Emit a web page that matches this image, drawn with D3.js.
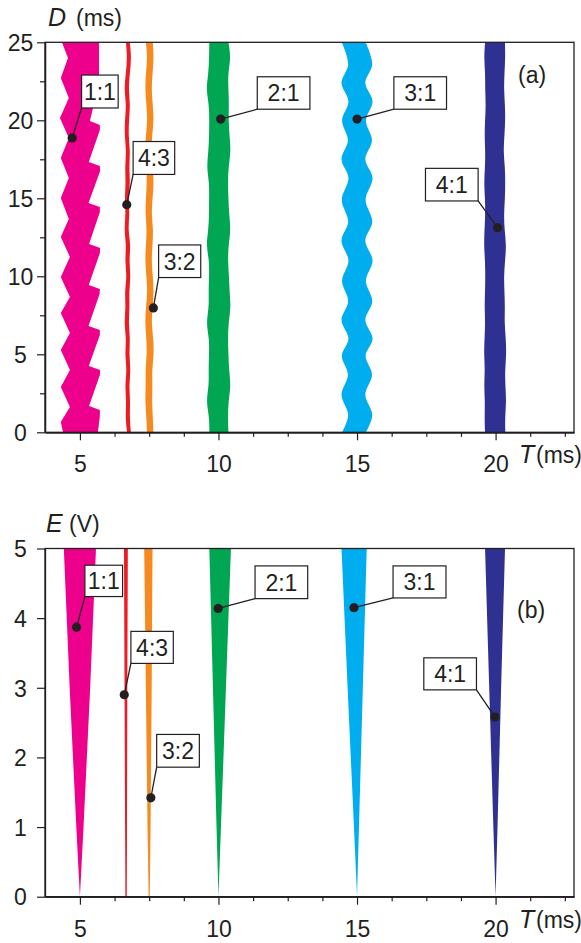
<!DOCTYPE html>
<html>
<head>
<meta charset="utf-8">
<script src="https://cdn.jsdelivr.net/npm/d3@7"></script>
<style>
  body { margin: 0; background: #fff; }
  svg text { font-family: "Liberation Sans", Arial, sans-serif; fill: #231f20; }
</style>
</head>
<body>
<div id="vis"></div>
<script>
// Tamaño de la figura
const WIDTH = 581;
const HEIGHT = 943;
const INK = "#231f20";

// ---------- DATOS ----------
const ratios = ["1:1", "4:3", "3:2", "2:1", "3:1", "4:1"];
const colores = ["#ec008c", "#ed1c24", "#f68a1f", "#00a651", "#00aeef", "#2e3192"];

// Panel (a): bordes de cada zona de sincronización, D (ms) -> T (ms)
const dGrid = [25, 24, 23, 22, 21, 20, 19, 18, 17, 16, 15, 14, 13, 12, 11, 10, 9, 8, 7, 6, 5, 4, 3, 2, 1, 0];

// 1:1 (bordes con distinto muestreo, forma de dientes)
const d11Right = [25, 22.39, 19.96, 19.70, 19.38, 17.33, 17.07, 16.75, 14.70, 14.44, 14.12, 12.07, 11.81, 11.49, 9.44, 9.19, 8.87, 6.81, 6.56, 6.24, 4.25, 4.00, 3.67, 1.69, 1.43, 1.04, 0];
const t11Right = [5.69, 5.69, 5.36, 5.72, 5.72, 5.32, 5.72, 5.73, 5.31, 5.72, 5.72, 5.33, 5.73, 5.72, 5.32, 5.72, 5.71, 5.31, 5.72, 5.72, 5.32, 5.73, 5.72, 5.33, 5.72, 5.72, 5.65];
const d11Left = [25, 23.99, 22.71, 21.43, 20.15, 18.87, 17.58, 16.30, 15.02, 13.67, 12.52, 11.24, 9.96, 8.67, 7.65, 6.37, 5.28, 4.00, 2.90, 1.62, 0.66, 0];
const t11Left = [4.35, 4.57, 4.31, 4.60, 4.28, 4.60, 4.31, 4.60, 4.31, 4.60, 4.31, 4.64, 4.31, 4.64, 4.31, 4.64, 4.31, 4.64, 4.31, 4.64, 4.31, 4.39];

// 4:3
const t43Left = [6.66, 6.71, 6.66, 6.59, 6.68, 6.62, 6.61, 6.68, 6.62, 6.66, 6.61, 6.66, 6.59, 6.68, 6.62, 6.70, 6.61, 6.66, 6.59, 6.68, 6.62, 6.70, 6.62, 6.68, 6.64, 6.70];
const t43Right = [6.80, 6.86, 6.80, 6.75, 6.82, 6.77, 6.75, 6.82, 6.77, 6.82, 6.75, 6.80, 6.73, 6.84, 6.77, 6.84, 6.77, 6.80, 6.75, 6.82, 6.77, 6.84, 6.77, 6.82, 6.79, 6.84];
// 3:2
const t32Left = [7.38, 7.44, 7.38, 7.35, 7.40, 7.44, 7.38, 7.35, 7.40, 7.42, 7.38, 7.36, 7.42, 7.38, 7.35, 7.40, 7.44, 7.38, 7.35, 7.40, 7.42, 7.36, 7.38, 7.35, 7.40, 7.42];
const t32Right = [7.63, 7.67, 7.62, 7.58, 7.63, 7.67, 7.60, 7.58, 7.63, 7.67, 7.62, 7.58, 7.65, 7.62, 7.58, 7.63, 7.67, 7.62, 7.58, 7.65, 7.67, 7.60, 7.62, 7.60, 7.63, 7.65];
// 2:1
const t21Left = [9.67, 9.66, 9.64, 9.55, 9.66, 9.67, 9.66, 9.64, 9.57, 9.67, 9.66, 9.66, 9.64, 9.55, 9.67, 9.66, 9.64, 9.66, 9.55, 9.67, 9.66, 9.64, 9.66, 9.55, 9.67, 9.67];
const t21Right = [10.36, 10.45, 10.34, 10.36, 10.38, 10.36, 10.40, 10.45, 10.36, 10.34, 10.36, 10.38, 10.45, 10.36, 10.34, 10.38, 10.40, 10.45, 10.36, 10.34, 10.36, 10.38, 10.45, 10.36, 10.34, 10.36];
// 3:1 (serpentea con su propio muestreo)
const d31 = [25, 23.6, 22.4, 21.2, 20.0, 18.7, 17.5, 16.3, 14.9, 13.5, 12.3, 11.0, 9.7, 8.4, 7.2, 6.0, 4.9, 3.7, 2.4, 1.1, 0];
const t31Left = [14.45, 14.68, 14.44, 14.69, 14.46, 14.67, 14.44, 14.69, 14.45, 14.68, 14.44, 14.69, 14.46, 14.68, 14.44, 14.69, 14.45, 14.67, 14.44, 14.68, 14.46];
const t31Right = [15.31, 15.55, 15.30, 15.56, 15.32, 15.54, 15.30, 15.56, 15.31, 15.55, 15.30, 15.56, 15.32, 15.55, 15.30, 15.56, 15.31, 15.54, 15.30, 15.55, 15.32];
// 4:1
const t41Left = [19.62, 19.58, 19.63, 19.62, 19.65, 19.62, 19.60, 19.63, 19.62, 19.58, 19.62, 19.63, 19.60, 19.58, 19.62, 19.63, 19.62, 19.60, 19.63, 19.60, 19.58, 19.62, 19.58, 19.62, 19.60, 19.62];
const t41Right = [20.34, 20.35, 20.32, 20.30, 20.34, 20.35, 20.32, 20.28, 20.34, 20.35, 20.34, 20.30, 20.32, 20.39, 20.34, 20.30, 20.32, 20.34, 20.32, 20.37, 20.39, 20.34, 20.35, 20.39, 20.34, 20.35];

// Panel (b): lenguas de Arnold, E (V) -> T (ms)
const eGrid = [0, 1, 3, 5];
const tongueLeft = [
  [5.00, 4.87, 4.63, 4.42],
  [6.64, 6.63, 6.61, 6.59],
  [7.48, 7.44, 7.38, 7.32],
  [10.00, 9.93, 9.80, 9.67],
  [15.00, 14.89, 14.66, 14.44],
  [20.00, 19.92, 19.77, 19.62]
];
const tongueRight = [
  [5.00, 5.13, 5.37, 5.58],
  [6.69, 6.70, 6.71, 6.73],
  [7.52, 7.55, 7.59, 7.62],
  [10.00, 10.09, 10.27, 10.45],
  [15.00, 15.07, 15.21, 15.35],
  [20.00, 20.07, 20.20, 20.34]
];

// Ticks
const xMajor = [5, 10, 15, 20];
const xMinor = [6.25, 7.5, 8.75, 11.25, 12.5, 13.75, 16.25, 17.5, 18.75, 21.25, 22.5];
const dMajor = [0, 5, 10, 15, 20, 25];
const dMinor = [2.5, 7.5, 12.5, 17.5, 22.5];
const eMajor = [0, 1, 2, 3, 4, 5];

// Etiquetas: punto [T, y] y caja [T izq, T der, y arriba, y abajo]
const etiquetasA = [
  { txt: "1:1", dot: [4.72, 18.87], box: [5.06, 6.38, 22.90, 20.79], corner: "l" },
  { txt: "4:3", dot: [6.69, 14.59], box: [6.92, 8.42, 18.64, 16.53], corner: "l" },
  { txt: "3:2", dot: [7.65, 7.97], box: [7.84, 9.36, 12.01, 9.92], corner: "l" },
  { txt: "2:1", dot: [10.08, 20.08], box: [11.40, 13.30, 22.79, 20.71], corner: "l" },
  { txt: "3:1", dot: [15.00, 20.08], box: [16.33, 18.23, 22.79, 20.71], corner: "l" },
  { txt: "4:1", dot: [20.07, 13.12], box: [17.47, 19.37, 16.92, 14.83], corner: "r" }
];
const etiquetasB = [
  { txt: "1:1", dot: [4.88, 3.87], box: [5.18, 6.54, 4.76, 4.31], corner: "l" },
  { txt: "4:3", dot: [6.60, 2.90], box: [6.84, 8.37, 3.81, 3.35], corner: "l" },
  { txt: "3:2", dot: [7.56, 1.42], box: [7.77, 9.31, 2.33, 1.86], corner: "l" },
  { txt: "2:1", dot: [9.99, 4.14], box: [11.32, 13.22, 4.75, 4.28], corner: "l" },
  { txt: "3:1", dot: [14.89, 4.15], box: [16.30, 18.21, 4.75, 4.29], corner: "l" },
  { txt: "4:1", dot: [19.98, 2.58], box: [17.41, 19.31, 3.43, 2.97], corner: "r" }
];

// ---------- ESCALAS ----------
const x = d3.scaleLinear().domain([3.74, 22.83]).range([45, 574]);
const yA = d3.scaleLinear().domain([0, 25]).range([432.3, 42.3]);
const yB = d3.scaleLinear().domain([0, 5]).range([896.7, 548.5]);

const SVG = d3.select("#vis").append("svg")
  .attr("width", WIDTH).attr("height", HEIGHT);

// ---------- PANEL (a) ----------
const gA = SVG.append("g");

const zip = (ds, ts) => ds.map((d, i) => [d, ts[i]]);

// 1:1 como polígono (borde derecho bajando, borde izquierdo subiendo)
const poly11 = zip(d11Right, t11Right).concat(zip(d11Left, t11Left).reverse());
gA.append("path")
  .attr("d", d3.line().x(p => x(p[1])).y(p => yA(p[0])).curve(d3.curveLinearClosed)(poly11))
  .attr("fill", colores[0]);

const bandasA = [
  { ds: dGrid, l: t43Left, r: t43Right, c: 1, curva: d3.curveBasis },
  { ds: dGrid, l: t32Left, r: t32Right, c: 2, curva: d3.curveBasis },
  { ds: dGrid, l: t21Left, r: t21Right, c: 3, curva: d3.curveBasis },
  { ds: d31, l: t31Left, r: t31Right, c: 4, curva: d3.curveCatmullRom.alpha(0.5) },
  { ds: dGrid, l: t41Left, r: t41Right, c: 5, curva: d3.curveBasis }
];

gA.selectAll(".banda")
  .data(bandasA)
  .join("path")
  .attr("class", "banda")
  .attr("d", b => d3.area()
    .y(d => yA(d.D))
    .x0(d => x(d.l))
    .x1(d => x(d.r))
    .curve(b.curva)(b.ds.map((D, i) => ({ D: D, l: b.l[i], r: b.r[i] }))))
  .attr("fill", b => colores[b.c]);

// ---------- PANEL (b) ----------
const gB = SVG.append("g");
const areaB = d3.area()
  .y(d => yB(d.E))
  .x0(d => x(d.l))
  .x1(d => x(d.r));

gB.selectAll(".lengua")
  .data(ratios)
  .join("path")
  .attr("class", "lengua")
  .attr("d", (_, k) => areaB(eGrid.map((E, i) => ({ E: E, l: tongueLeft[k][i], r: tongueRight[k][i] }))))
  .attr("fill", (_, k) => colores[k]);

// ---------- EJES ----------
function ejes(g, y, yMaj, yMin) {
  const [y0, y1] = y.range();
  const [x0, x1] = x.range();

  g.append("rect")
    .attr("x", x0).attr("y", y1)
    .attr("width", x1 - x0).attr("height", y0 - y1)
    .attr("fill", "none").attr("stroke", INK).attr("stroke-width", 1.3);

  const ax = g.append("g").attr("transform", `translate(0,${y0})`)
    .call(d3.axisBottom(x).tickValues(xMajor).tickSize(8).tickSizeOuter(0).tickFormat(d3.format("d")));
  g.append("g").attr("transform", `translate(0,${y0})`)
    .call(d3.axisBottom(x).tickValues(xMinor).tickSize(4.5).tickSizeOuter(0).tickFormat(""));
  ax.selectAll("text").attr("y", 40).attr("dy", 0);

  const ay = g.append("g").attr("transform", `translate(${x0},0)`)
    .call(d3.axisLeft(y).tickValues(yMaj).tickSize(8).tickSizeOuter(0).tickFormat(d3.format("d")));
  if (yMin.length) {
    g.append("g").attr("transform", `translate(${x0},0)`)
      .call(d3.axisLeft(y).tickValues(yMin).tickSize(5).tickSizeOuter(0).tickFormat(""));
  }
  ay.selectAll("text").attr("x", -24.5).attr("dy", "0.36em").attr("text-anchor", "middle");

  g.selectAll(".domain").attr("stroke", INK).attr("stroke-width", 1.3);
  g.selectAll(".tick line").attr("stroke", INK).attr("stroke-width", 1.2);
  g.selectAll(".tick text")
    .attr("font-size", 23)
    .attr("font-family", "'Liberation Sans', Arial, sans-serif")
    .attr("fill", INK);
}
ejes(gA, yA, dMajor, dMinor);
ejes(gB, yB, eMajor, []);

// ---------- TITULOS ----------
function titulo(g, xv, yv, letra, resto, restoX) {
  g.append("text").attr("x", xv).attr("y", yv)
    .attr("font-family", "'Liberation Serif', 'Times New Roman', serif")
    .attr("font-style", "italic").attr("font-size", 25).text(letra);
  g.append("text").attr("x", restoX).attr("y", yv)
    .attr("font-size", 23).text(resto);
}
titulo(gA, 48, 26, "D", "(ms)", 76);
titulo(gA, 519, yA.range()[0] + 31, "T", "(ms)", 536);
titulo(gB, 46, 532, "E", "(V)", 69);
titulo(gB, 519, yB.range()[0] + 31, "T", "(ms)", 536);

gA.append("text").attr("x", 518).attr("y", 83).attr("font-size", 23).text("(a)");
gB.append("text").attr("x", 517).attr("y", 618).attr("font-size", 23).text("(b)");

// ---------- ETIQUETAS ----------
function etiquetar(g, y, lista) {
  const grupos = g.selectAll(".etq").data(lista).join("g").attr("class", "etq");
  grupos.append("line")
    .attr("x1", d => x(d.dot[0])).attr("y1", d => y(d.dot[1]))
    .attr("x2", d => x(d.corner === "r" ? d.box[1] : d.box[0]))
    .attr("y2", d => y(d.box[3]))
    .attr("stroke", INK).attr("stroke-width", 1.3);
  grupos.append("rect")
    .attr("x", d => x(d.box[0])).attr("y", d => y(d.box[2]))
    .attr("width", d => x(d.box[1]) - x(d.box[0]))
    .attr("height", d => y(d.box[3]) - y(d.box[2]))
    .attr("fill", "white").attr("stroke", INK).attr("stroke-width", 1.2);
  grupos.append("text")
    .attr("x", d => (x(d.box[0]) + x(d.box[1])) / 2)
    .attr("y", d => (y(d.box[2]) + y(d.box[3])) / 2)
    .attr("dy", "0.36em").attr("text-anchor", "middle")
    .attr("font-size", 23).text(d => d.txt);
  grupos.append("circle")
    .attr("cx", d => x(d.dot[0])).attr("cy", d => y(d.dot[1]))
    .attr("r", 4.6).attr("fill", INK);
}
etiquetar(gA, yA, etiquetasA);
etiquetar(gB, yB, etiquetasB);
</script>
</body>
</html>
